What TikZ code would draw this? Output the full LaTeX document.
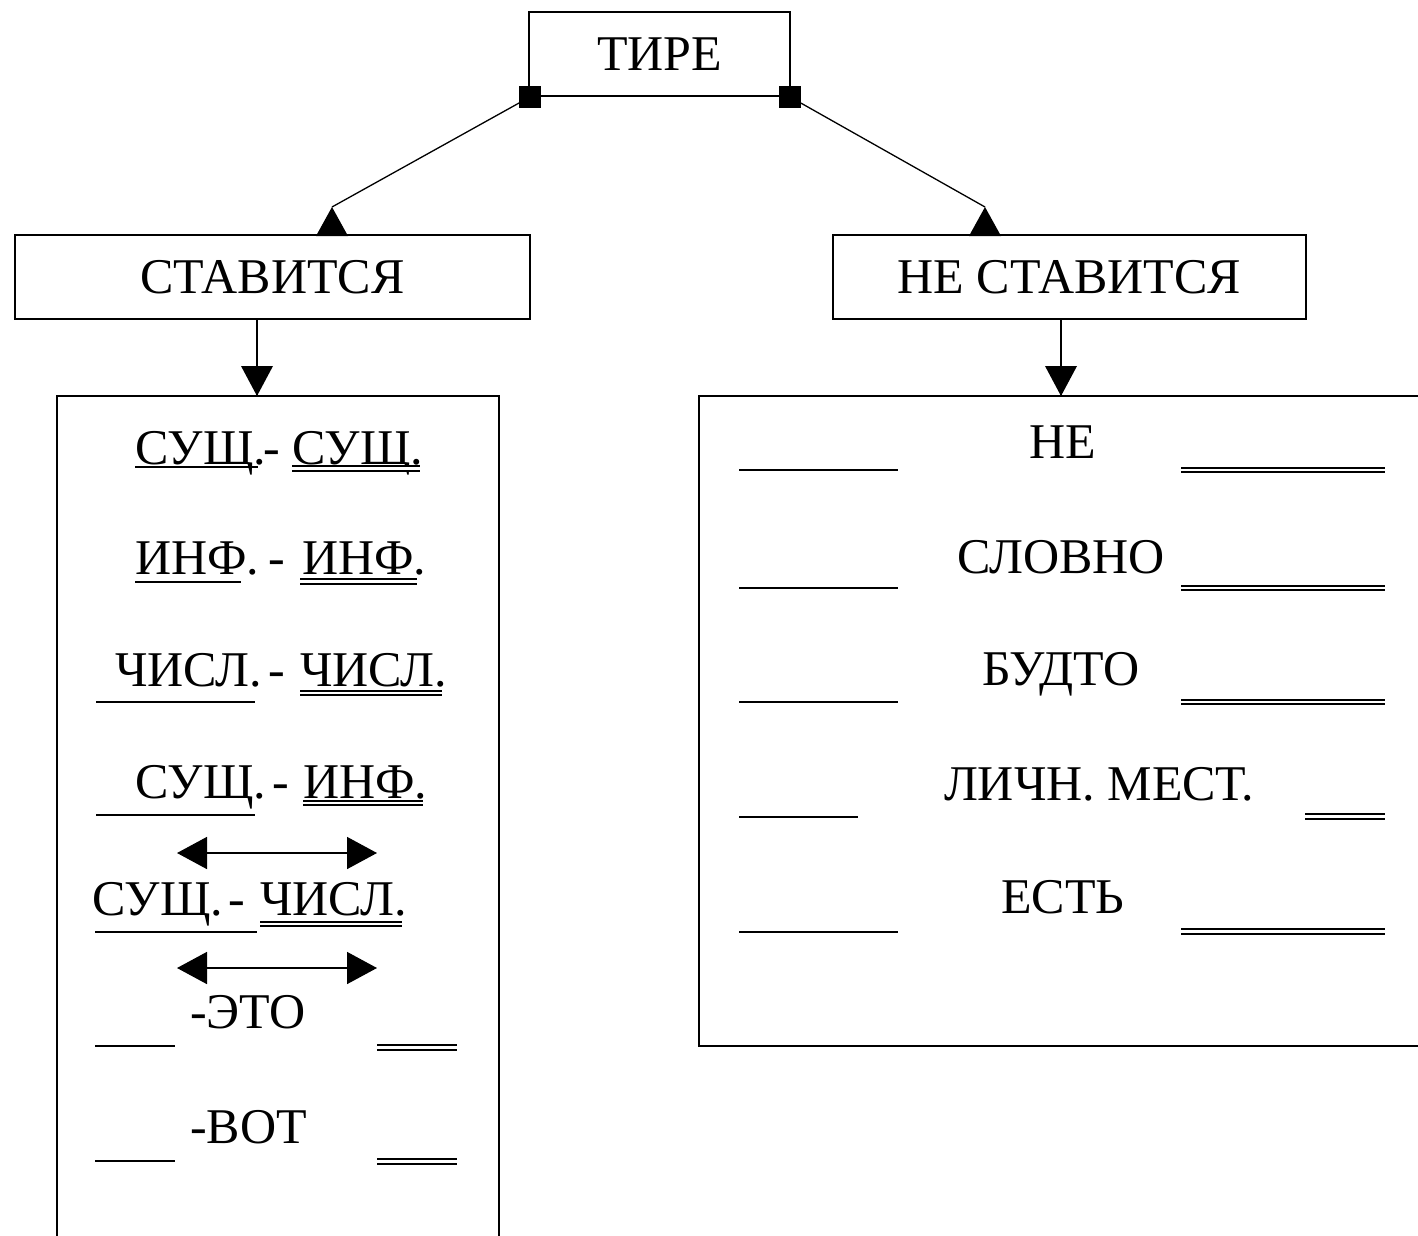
\documentclass[tikz,border=0pt]{standalone}
\usepackage{fontspec}
\setmainfont{Liberation Serif}
\usetikzlibrary{arrows.meta}
\newcommand\dgfs{\fontsize{50}{56}\selectfont}
\newcommand\sx[2]{\scalebox{#1}[1]{#2}}
\begin{document}
\begin{tikzpicture}[x=1pt,y=-1pt,
  box/.style={draw,line width=1.6pt,inner sep=0pt,font=\dgfs},
  bigbox/.style={draw,line width=1.6pt,inner sep=0pt},
  sq/.style={fill=black,minimum size=22pt,inner sep=0pt},
  conn/.style={line width=1.3pt},
  tip/.style={fill=black},
  txt/.style={inner sep=0pt,anchor=base west,font=\dgfs},
  ctxt/.style={inner sep=0pt,anchor=base,font=\dgfs},
  ul/.style={line width=2.4pt},
  dl/.style={double,double distance=2.4pt,line width=2pt},
  dbl/.style={line width=1.6pt,{Triangle[length=30pt,width=32pt]}-{Triangle[length=30pt,width=32pt]}}]
\useasboundingbox (0,0) rectangle (1418,1236);
\fill[white] (0,0) rectangle (1418,1236);
% boxes
\node[box,minimum width=261pt,minimum height=84pt] (tire) at (659.5,54) {ТИРЕ};
\node[box,minimum width=515pt,minimum height=84pt] (stav) at (272.5,277) {СТАВИТСЯ};
\node[box,minimum width=473pt,minimum height=84pt] (nestav) at (1069.5,277) {НЕ СТАВИТСЯ};
\node[bigbox,minimum width=442pt,minimum height=844pt] (lbox) at (278,818) {};
\node[bigbox,minimum width=726pt,minimum height=650pt] (rbox) at (1062,721) {};
% top connectors
\node[sq] (sqL) at ([xshift=2pt]tire.south west) {};
\node[sq] (sqR) at ([xshift=-1pt]tire.south east) {};
\coordinate (la) at (332,207);
\coordinate (ra) at (985,207);
\draw[conn] (sqL.center) -- (la);
\draw[conn] (sqR.center) -- (ra);
\fill[tip] (la) -- ++(-16,29) -- ++(32,0) -- cycle;
\fill[tip] (ra) -- ++(-16,29) -- ++(32,0) -- cycle;
% vertical connectors
\coordinate (lt) at (257,396);
\coordinate (rt) at (1061,396);
\draw[conn] (stav.south -| lt) -- (lt);
\draw[conn] (nestav.south -| rt) -- (rt);
\fill[tip] (lt) -- ++(-16,-30) -- ++(32,0) -- cycle;
\fill[tip] (rt) -- ++(-16,-30) -- ++(32,0) -- cycle;
% left box rows
\node[txt] (r1a) at (135,464) {СУЩ.};
\node[ctxt] (r1d) at (272,464) {-};
\node[txt] (r1b) at (292,464) {СУЩ.};
\draw[ul] (135,467) -- (258,467);
\draw[dl] (292,468.5) -- (420,468.5);
\node[txt] (r2a) at (135,574) {ИНФ.};
\node[ctxt] (r2d) at (277,574) {-};
\node[txt] (r2b) at (302,574) {ИНФ.};
\draw[ul] (135,582) -- (241,582);
\draw[dl] (300,581.5) -- (417,581.5);
\node[txt] (r3a) at (115,686) {ЧИСЛ.};
\node[ctxt] (r3d) at (277,686) {-};
\node[txt] (r3b) at (300,686) {ЧИСЛ.};
\draw[ul] (96,702) -- (255,702);
\draw[dl] (300,693) -- (442,693);
\node[txt] (r4a) at (135,798) {СУЩ.};
\node[ctxt] (r4d) at (281,798) {-};
\node[txt] (r4b) at (303,798) {ИНФ.};
\draw[ul] (96,815) -- (255,815);
\draw[dl] (303,803) -- (423,803);
\coordinate (a1l) at (177,853);
\coordinate (a1r) at (377,853);
\draw[dbl] (a1l) -- (a1r);
\node[txt] (r5a) at (92,915) {СУЩ.};
\node[ctxt] (r5d) at (237,915) {-};
\node[txt] (r5b) at (260,915) {ЧИСЛ.};
\draw[ul] (95,932) -- (257,932);
\draw[dl] (260,924) -- (402,924);
\coordinate (a2l) at (177,968);
\coordinate (a2r) at (377,968);
\draw[dbl] (a2l) -- (a2r);
\node[txt] (r6) at (190,1028) {-ЭТО};
\draw[ul] (95,1046) -- (175,1046);
\draw[dl] (377,1047.5) -- (457,1047.5);
\node[txt] (r7) at (190,1143) {-ВОТ};
\draw[ul] (95,1161) -- (175,1161);
\draw[dl] (377,1161.5) -- (457,1161.5);
% right box rows
\node[ctxt] (s1) at (1063,458) {НЕ};
\draw[ul] (739,470) -- (898,470);
\draw[dl] (1181,470) -- (1385,470);
\node[ctxt] (s2) at (1061,573) {СЛОВНО};
\draw[ul] (739,588) -- (898,588);
\draw[dl] (1181,588) -- (1385,588);
\node[ctxt] (s3) at (1061,685) {БУДТО};
\draw[ul] (739,702) -- (898,702);
\draw[dl] (1181,702) -- (1385,702);
\node[ctxt] (s4) at (1099,800) {ЛИЧН. МЕСТ.};
\draw[ul] (739,817) -- (858,817);
\draw[dl] (1305,816.5) -- (1385,816.5);
\node[ctxt] (s5) at (1063,913) {ЕСТЬ};
\draw[ul] (739,932) -- (898,932);
\draw[dl] (1181,931.5) -- (1385,931.5);
\end{tikzpicture}
\end{document}
